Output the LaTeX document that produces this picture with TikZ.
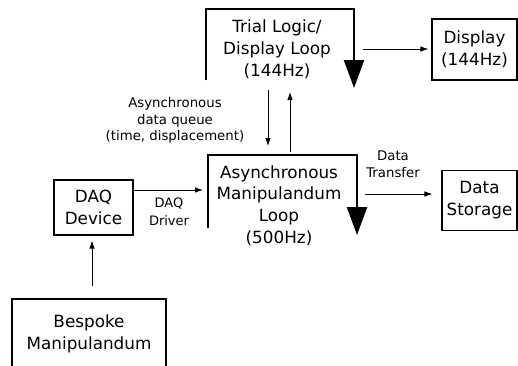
\documentclass[tikz,border=0pt]{standalone}
\usepackage{fontspec}
\setmainfont{DejaVu Sans}
\usetikzlibrary{arrows.meta}
\begin{document}
\begin{tikzpicture}[x=1pt,y=-1pt,
  big/.style={font=\fontsize{16.8}{21.8}\selectfont, align=center, inner sep=0pt},
  small/.style={font=\fontsize{13.3}{16.5}\selectfont, align=center, inner sep=0pt},
  box/.style={draw, line width=1.1pt, big},
  loopline/.style={line width=2.5pt, line join=miter, -{Triangle[length=28pt,width=20pt]}},
  conn/.style={line width=0.8pt, -{Latex[length=8pt,width=5.5pt]}}]
\useasboundingbox (0,0) rectangle (518,365);

% boxes
\node[box, minimum width=85pt, minimum height=61pt] (display) at (474.5,49.5) {Display\\(144Hz)};
\node[box, minimum width=75pt, minimum height=60pt] (storage) at (479.5,200.5) {Data\\Storage};
\node[box, minimum width=79pt, minimum height=55pt] (daq) at (93.5,207.5) {DAQ\\Device};
\node[box, minimum width=154pt, minimum height=69pt] (bespoke) at (89,333.5) {Bespoke\\Manipulandum};

% loops
\node[big] (trial) at (277,49) {Trial Logic/\\Display Loop\\(144Hz)};
\draw[loopline] (206,80) -- (206,9) -- (354,9) -- (354,88);
\node[big] (manip) at (279,205.5) {Asynchronous\\Manipulandum\\Loop\\(500Hz)};
\draw[loopline] (208,228) -- (208,155) -- (357,155) -- (357,235);

% connector end points
\coordinate (trialOut) at (363,49);
\coordinate (qDownS) at (268,90);
\coordinate (qDownE) at (268,155);
\coordinate (qUpS) at (290,152);
\coordinate (qUpE) at (290,92);
\coordinate (manipW) at (208,190);
\coordinate (manipOut) at (365,194);

% connectors
\draw[conn, shorten >=3pt] (trialOut) -- (trialOut -| display.west);
\draw[conn, shorten >=9pt] (qDownS) -- (qDownE);
\draw[conn] (qUpS) -- (qUpE);
\draw[conn, shorten >=5pt] ([yshift=17.5pt]daq.east) -- (manipW);
\draw[conn, shorten >=9pt] (manipOut) -- (manipOut -| storage.west);
\draw[conn, shorten <=12pt, shorten >=5pt] ([xshift=3pt]bespoke.north) -- ([xshift=3pt]bespoke.north |- daq.south);

% labels
\node[small] (asyncq) at (175,120.5) {Asynchronous\\data queue\\(time, displacement)};
\node[small, font=\fontsize{13}{18}\selectfont] (drv) at (169,212) {DAQ\\Driver};
\node[small] (dt) at (393,164) {Data\\Transfer};
\end{tikzpicture}
\end{document}
